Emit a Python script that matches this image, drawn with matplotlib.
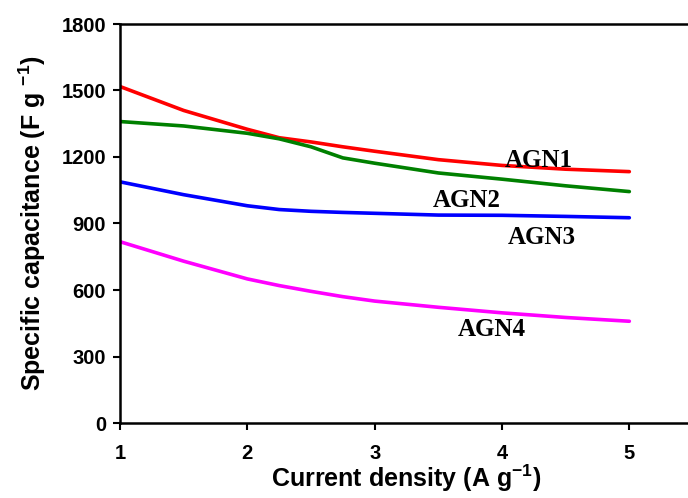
import matplotlib
matplotlib.use('Agg')
import matplotlib.pyplot as plt

# current density (A/g)
density = [1, 1.5, 2, 2.25, 2.5, 2.75, 3, 3.5, 4, 4.5, 5]

agn1 = [1518, 1410, 1325, 1287, 1268, 1246, 1226, 1188, 1162, 1145, 1134]
agn2 = [1360, 1340, 1307, 1282, 1246, 1196, 1172, 1128, 1100, 1070, 1044]
agn3 = [1088, 1030, 980, 963, 955, 950, 946, 938, 937, 932, 926]
agn4 = [818, 730, 650, 620, 594, 570, 550, 522, 497, 476, 459]

names = ['AGN1', 'AGN2', 'AGN3', 'AGN4']
colors = ['#FF0000', '#008000', '#0000FF', '#FF00FF']
# label anchor points (data coords)
label_x = [4.29, 3.72, 4.31, 3.92]
label_y = [1186, 1006, 839, 424]

x_ticks = [1, 2, 3, 4, 5]
y_ticks = [0, 300, 600, 900, 1200, 1500, 1800]

plt.rcParams['font.family'] = 'Liberation Sans'
plt.rcParams['font.weight'] = 'bold'
plt.rcParams['mathtext.fontset'] = 'custom'
plt.rcParams['mathtext.bf'] = 'Liberation Sans:bold'
plt.rcParams['mathtext.rm'] = 'Liberation Sans:bold'

fig = plt.figure(figsize=(6.88, 4.98), dpi=100)
ax = fig.add_axes([120 / 688, 1 - 423 / 498, 573 / 688, 399 / 498])

for ys, c in zip([agn1, agn2, agn3, agn4], colors):
    ax.plot(density, ys, color=c, lw=2.6, solid_capstyle='round')

for n, lx, ly in zip(names, label_x, label_y):
    ax.text(lx, ly, n, family='Liberation Serif', weight='bold', fontsize=18,
            ha='center', va='center')

ax.set_xlim(1, 5.5)
ax.set_ylim(0, 1800)
ax.set_xticks(x_ticks)
ax.set_yticks(y_ticks)
ax.tick_params(axis='both', direction='out', width=1.5, labelsize=14.5)
ax.tick_params(axis='x', length=5, pad=10)
ax.tick_params(axis='y', length=5, pad=5)
for lab in ax.get_xticklabels() + ax.get_yticklabels():
    lab.set_fontweight('bold')

for s in ax.spines.values():
    s.set_linewidth(1.8)

ax.set_xlabel(r'Current density (A g$^{\mathbf{-1}}$)', fontsize=18,
              fontweight='bold', labelpad=0)
ax.set_ylabel(r'Specific capacitance (F g $^{\mathbf{-1}}$)', fontsize=18,
              fontweight='bold', labelpad=10)

fig.savefig('out.png', dpi=100)
